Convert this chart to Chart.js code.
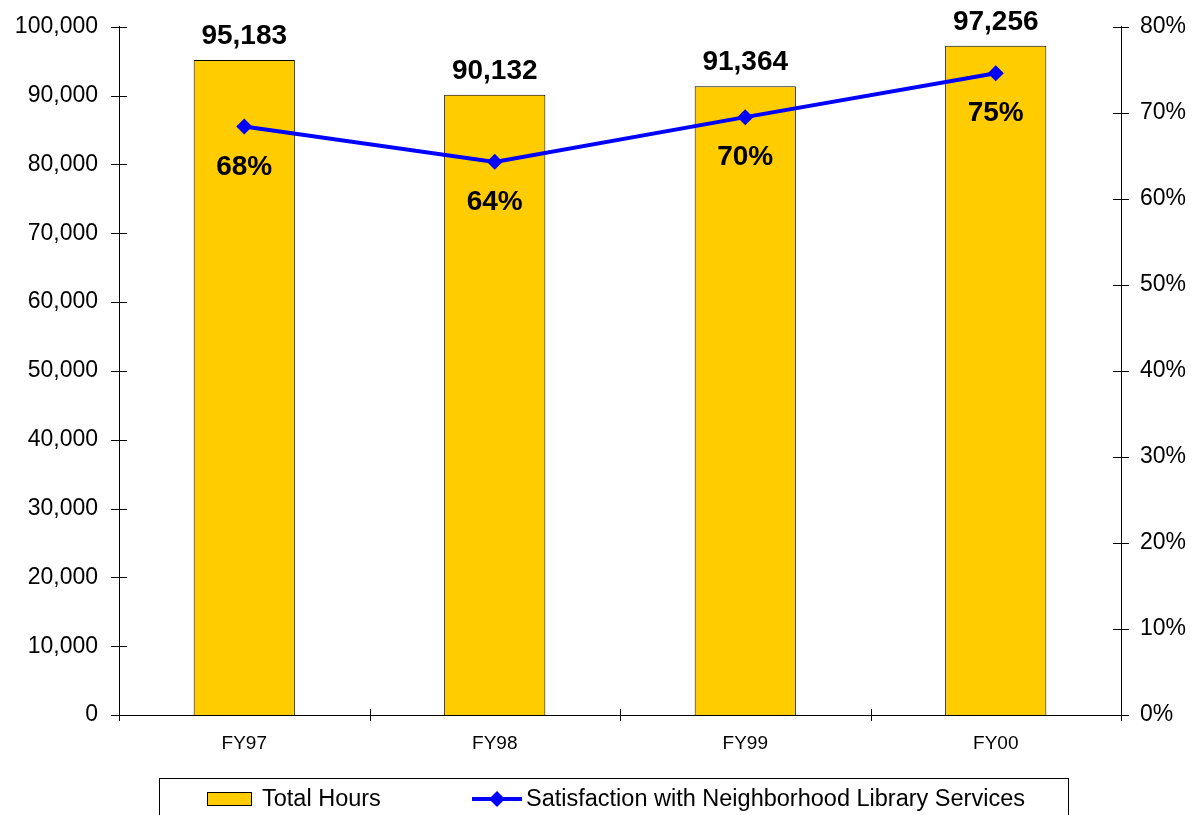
<!DOCTYPE html>
<html>
<head>
<meta charset="utf-8">
<script src="https://cdn.jsdelivr.net/npm/chart.js@4.4.1/dist/chart.umd.min.js"></script>
<style>
  html, body { margin: 0; padding: 0; background: #fff; }
  #wrap { width: 1194px; height: 815px; position: relative; }
</style>
</head>
<body>
<div id="wrap"><canvas id="c" width="1194" height="815"></canvas></div>
<script>
const categories = ['FY97', 'FY98', 'FY99', 'FY00'];
const totalHours = [95183, 90132, 91364, 97256];
const satisfaction = [68.4, 64.3, 69.5, 74.6];
const hoursLabel = 'Total Hours';
const satisfactionLabel = 'Satisfaction with Neighborhood Library Services';

const FONT = '"Liberation Sans", Arial, sans-serif';

const crossTicks = {
  id: 'crossTicks',
  afterDatasetsDraw(chart) {
    const ctx = chart.ctx;
    const ca = chart.chartArea;
    const x = chart.scales.x, yL = chart.scales.y, yR = chart.scales.y1;
    ctx.save();
    ctx.strokeStyle = '#000';
    ctx.lineWidth = 1;
    ctx.beginPath();
    yL.ticks.forEach(t => {
      const py = Math.round(yL.getPixelForValue(t.value)) + 0.5;
      ctx.moveTo(ca.left - 8, py); ctx.lineTo(ca.left + 8, py);
    });
    yR.ticks.forEach(t => {
      const py = Math.round(yR.getPixelForValue(t.value)) + 0.5;
      ctx.moveTo(ca.right - 8, py); ctx.lineTo(ca.right + 8, py);
    });
    for (let i = 0; i <= categories.length; i++) {
      const px = Math.round(x.getPixelForValue(i - 0.5)) + 0.5;
      ctx.moveTo(px, ca.bottom - 6); ctx.lineTo(px, ca.bottom + 6);
    }
    ctx.stroke();

    // value labels
    ctx.fillStyle = '#000';
    ctx.textAlign = 'center';
    ctx.textBaseline = 'alphabetic';
    ctx.font = 'bold 28px ' + FONT;
    const barMeta = chart.getDatasetMeta(0);
    barMeta.data.forEach((el, i) => {
      ctx.fillText(totalHours[i].toLocaleString('en-US'), el.x, el.y - 16);
    });
    const lineMeta = chart.getDatasetMeta(1);
    lineMeta.data.forEach((el, i) => {
      ctx.fillText(Math.round(satisfaction[i]) + '%', el.x, el.y + 48);
    });

    // legend
    ctx.lineWidth = 1;
    ctx.strokeStyle = '#000';
    ctx.strokeRect(159.5, 778.5, 909, 50);
    ctx.fillStyle = '#FFCC00';
    ctx.fillRect(207, 792, 45, 14);
    ctx.strokeRect(207.5, 792.5, 44, 13);
    ctx.font = '23.5px ' + FONT;
    ctx.fillStyle = '#000';
    ctx.textAlign = 'left';
    ctx.textBaseline = 'middle';
    ctx.fillText(hoursLabel, 262, 800);
    ctx.strokeStyle = '#0000FF';
    ctx.lineWidth = 4;
    ctx.beginPath();
    ctx.moveTo(472, 799); ctx.lineTo(522, 799);
    ctx.stroke();
    ctx.fillStyle = '#0000FF';
    ctx.beginPath();
    ctx.moveTo(497, 791); ctx.lineTo(505, 799); ctx.lineTo(497, 807); ctx.lineTo(489, 799);
    ctx.closePath(); ctx.fill();
    ctx.fillStyle = '#000';
    ctx.fillText(satisfactionLabel, 526, 800);
    ctx.restore();
  }
};

new Chart(document.getElementById('c'), {
  data: {
    labels: categories,
    datasets: [
      {
        type: 'bar',
        label: hoursLabel,
        data: totalHours,
        backgroundColor: '#FFCC00',
        borderColor: '#000',
        borderWidth: 1,
        categoryPercentage: 1,
        barPercentage: 0.404,
        yAxisID: 'y',
        order: 2
      },
      {
        type: 'line',
        label: satisfactionLabel,
        data: satisfaction,
        borderColor: '#0000FF',
        backgroundColor: '#0000FF',
        borderWidth: 4,
        pointStyle: 'rectRot',
        pointRadius: 8,
        pointHoverRadius: 8,
        pointBorderWidth: 0,
        tension: 0,
        yAxisID: 'y1',
        order: 1
      }
    ]
  },
  options: {
    responsive: false,
    animation: false,
    events: [],
    layout: { padding: { top: 20, left: 0, right: 0, bottom: 0 } },
    plugins: { legend: { display: false }, tooltip: { enabled: false } },
    scales: {
      x: {
        offset: true,
        grid: { display: false, offset: true },
        border: { display: true, color: '#000', width: 1 },
        ticks: { color: '#000', font: { family: FONT, size: 19 }, padding: 9, maxRotation: 0 },
        afterFit(s) { s.height = 100; }
      },
      y: {
        position: 'left',
        min: 0, max: 100000,
        grid: { display: false },
        border: { display: true, color: '#000', width: 1 },
        ticks: {
          stepSize: 10000, color: '#000', padding: 13,
          font: { family: FONT, size: 23 },
          callback: v => v.toLocaleString('en-US')
        },
        afterFit(s) { s.width = 119; }
      },
      y1: {
        position: 'right',
        min: 0, max: 80,
        grid: { display: false },
        border: { display: true, color: '#000', width: 1 },
        ticks: {
          stepSize: 10, color: '#000', padding: 11,
          font: { family: FONT, size: 23 },
          callback: v => v + '%'
        },
        afterFit(s) { s.width = 73; }
      }
    }
  },
  plugins: [crossTicks]
});
</script>
</body>
</html>
